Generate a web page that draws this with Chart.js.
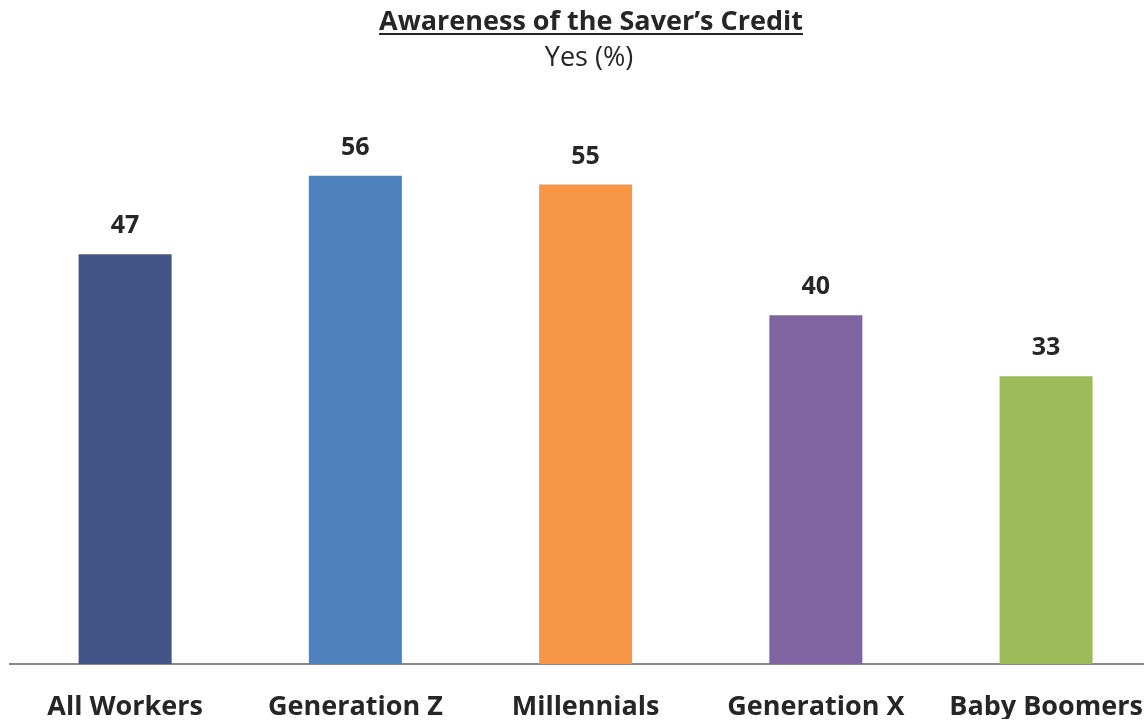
<!DOCTYPE html>
<html>
<head>
<meta charset="utf-8">
<script src="https://cdn.jsdelivr.net/npm/chart.js@4"></script>
<style>
  body { margin: 0; overflow: hidden; background: #fff; }
  #wrap { width: 1170px; height: 721px; position: relative; }
</style>
</head>
<body>
<div id="wrap"><canvas id="grafica"></canvas></div>
<script>
const labels = ['All Workers', 'Generation Z', 'Millennials', 'Generation X', 'Baby Boomers'];
const values = [47, 56, 55, 40, 33];
const colors = ['#435488', '#4F81BD', '#F79646', '#8064A2', '#9BBB59'];
const titleText = 'Awareness of the Saver\u2019s Credit';
const subtitleText = 'Yes (%)';

const FONT = '"Open Sans", sans-serif';
const TEXT = '#262626';

// heading + value labels drawn on the canvas
const extras = {
  id: 'extras',
  afterDraw(chart) {
    const ctx = chart.ctx;
    ctx.save();
    ctx.fillStyle = TEXT;
    ctx.textAlign = 'center';
    ctx.textBaseline = 'alphabetic';

    ctx.font = 'bold 27px ' + FONT;
    ctx.fillText(titleText, 591, 30);
    const w = ctx.measureText(titleText).width;
    ctx.fillRect(591 - w / 2, 33, w, 2);

    ctx.font = '27px ' + FONT;
    ctx.fillText(subtitleText, 589, 66);

    ctx.font = 'bold 25px ' + FONT;
    ctx.textBaseline = 'middle';
    const meta = chart.getDatasetMeta(0);
    meta.data.forEach((bar, i) => {
      ctx.fillText(values[i], bar.x, bar.y - 28);
    });
    ctx.restore();
  }
};

const graph = document.querySelector('#grafica');

const data = {
  labels: labels,
  datasets: [{
    data: values,
    backgroundColor: colors,
    categoryPercentage: 1,
    barPercentage: 0.404
  }]
};

const config = {
  type: 'bar',
  data: data,
  options: {
    responsive: true,
    maintainAspectRatio: false,
    animation: false,
    layout: { padding: { top: 141, left: 10, right: 1, bottom: 2 } },
    plugins: {
      legend: { display: false },
      tooltip: { enabled: false }
    },
    scales: {
      x: {
        grid: { display: false, drawTicks: false },
        border: { display: true, color: '#898989', width: 2 },
        ticks: {
          color: TEXT,
          padding: 27,
          maxRotation: 0,
          font: { family: FONT, size: 27, weight: 'bold' }
        },
        afterFit(scale) { scale.height = 55; }
      },
      y: {
        display: false,
        min: 0,
        max: 60
      }
    }
  },
  plugins: [extras]
};
new Chart(graph, config);
</script>
</body>
</html>
